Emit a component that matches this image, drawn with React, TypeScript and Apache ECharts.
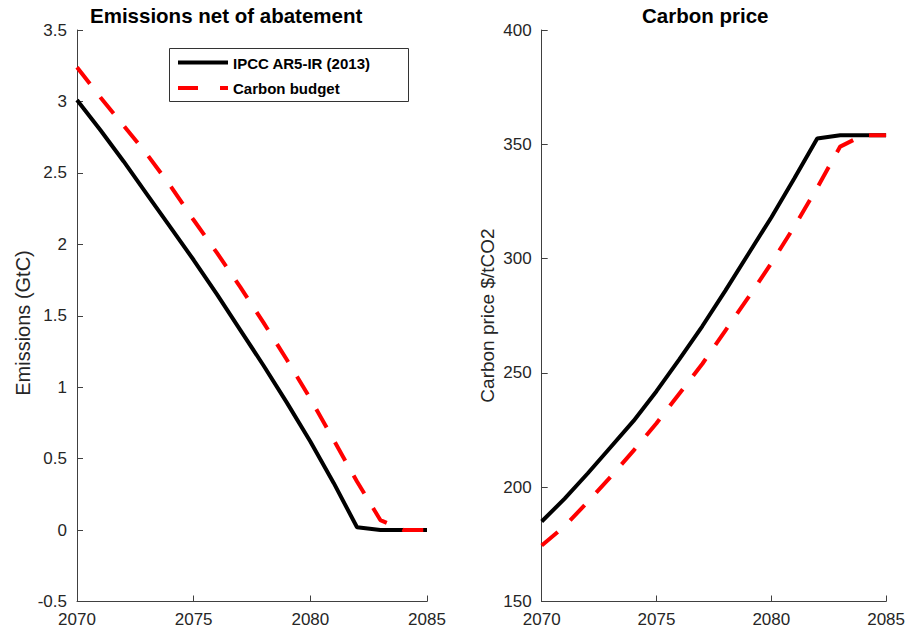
import React, { useEffect, useRef } from "react";
import * as echarts from "echarts";

const years = [2070, 2071, 2072, 2073, 2074, 2075, 2076, 2077, 2078, 2079, 2080, 2081, 2082, 2083, 2084, 2085];
const emissionsIPCC = [3.01, 2.8, 2.58, 2.35, 2.12, 1.89, 1.65, 1.4, 1.15, 0.89, 0.62, 0.33, 0.02, 0.0, 0.0, 0.0];
const emissionsBudget = [3.24, 3.03, 2.83, 2.63, 2.41, 2.17, 1.94, 1.7, 1.45, 1.19, 0.92, 0.63, 0.34, 0.07, 0.0, 0.0];
const priceIPCC = [185, 195, 206, 217.5, 229, 242, 256, 270.5, 286, 302, 318, 335, 352.5, 354, 354, 354];
const priceBudget = [174.5, 183, 193.5, 204.5, 216, 228, 241, 254, 268.5, 283, 298, 314, 331, 349, 354, 354];

const titles = ["Emissions net of abatement", "Carbon price"];
const yNames = ["Emissions (GtC)", "Carbon price $/tCO2"];
const seriesNames = ["IPCC AR5-IR (2013)", "Carbon budget"];

const pair = (xs: number[], ys: number[]) => xs.map((x, i) => [x, ys[i]]);

export default function App() {
  const ref = useRef<HTMLDivElement>(null);
  useEffect(() => {
    if (!ref.current) return;
    const chart = echarts.init(ref.current, null, { renderer: "svg" });
    const font = "Liberation Sans, Arial, sans-serif";
    const axisCol = "#404040";
    const txtCol = "#262626";
    const xAxisBase = {
      type: "value",
      min: 2070,
      max: 2085,
      interval: 5,
      axisLine: { show: true, onZero: false, lineStyle: { color: axisCol, width: 1 } },
      axisTick: { show: true, inside: true, length: 6, lineStyle: { color: axisCol } },
      axisLabel: {
        color: txtCol, fontSize: 17, fontFamily: font, margin: 9, showMinLabel: true, showMaxLabel: true,
        formatter: (v: number) => String(v),
      },
      splitLine: { show: false },
    };
    const yAxisBase = {
      type: "value",
      axisLine: { show: true, onZero: false, lineStyle: { color: axisCol, width: 1 } },
      axisTick: { show: true, inside: true, length: 6, lineStyle: { color: axisCol } },
      axisLabel: { color: txtCol, fontSize: 17, fontFamily: font, margin: 10, showMinLabel: true, showMaxLabel: true },
      splitLine: { show: false },
    };
    const blackStyle = { color: "#000000", width: 4, type: "solid" as const };
    const redStyle = { color: "#ff0000", width: 4, type: [21, 17] as number[] };
    const legendText = { fontSize: 15, fontWeight: "bold", fill: "#000", fontFamily: font, verticalAlign: "middle", align: "left" };
    const nameText = { fill: txtCol, fontFamily: font, align: "center", verticalAlign: "middle" };
    chart.setOption({
      animation: false,
      backgroundColor: "#ffffff",
      title: [
        { text: titles[0], left: 85, top: 0, textStyle: { fontSize: 20.5, fontWeight: "bold", color: "#000", fontFamily: font } },
        { text: titles[1], left: 637, top: 0, textStyle: { fontSize: 20.5, fontWeight: "bold", color: "#000", fontFamily: font } },
      ],
      graphic: [
        { type: "text", x: 22.5, y: 323, rotation: Math.PI / 2, style: { text: yNames[0], fontSize: 20, ...nameText } },
        { type: "text", x: 487, y: 315.5, rotation: Math.PI / 2, style: { text: yNames[1], fontSize: 19, ...nameText } },
        {
          type: "group",
          z: 100,
          children: [
            { type: "rect", shape: { x: 169.5, y: 48.5, width: 239, height: 53 }, style: { fill: "#fff", stroke: "#333", lineWidth: 1 } },
            { type: "line", shape: { x1: 178, y1: 62.5, x2: 228, y2: 62.5 }, style: { stroke: "#000", lineWidth: 4 } },
            { type: "text", x: 233, y: 63, style: { text: seriesNames[0], ...legendText } },
            { type: "line", shape: { x1: 178, y1: 88, x2: 228, y2: 88 }, style: { stroke: "#ff0000", lineWidth: 4, lineDash: [20, 22] } },
            { type: "text", x: 233, y: 88.5, style: { text: seriesNames[1], ...legendText } },
          ],
        },
      ],
      grid: [
        { left: 77, top: 30, width: 350, height: 571.5 },
        { left: 541.7, top: 30, width: 348.3, height: 571.5 },
      ],
      xAxis: [
        { ...xAxisBase, gridIndex: 0 },
        { ...xAxisBase, gridIndex: 1 },
      ],
      yAxis: [
        { ...yAxisBase, gridIndex: 0, min: -0.5, max: 3.5, interval: 0.5 },
        { ...yAxisBase, gridIndex: 1, min: 150, max: 400, interval: 50 },
      ],
      series: [
        { name: seriesNames[0], type: "line", xAxisIndex: 0, yAxisIndex: 0, data: pair(years, emissionsIPCC), showSymbol: false, symbol: "none", lineStyle: blackStyle, z: 2 },
        { name: seriesNames[1], type: "line", xAxisIndex: 0, yAxisIndex: 0, data: pair(years, emissionsBudget), showSymbol: false, symbol: "none", lineStyle: redStyle, z: 3 },
        { name: seriesNames[0], type: "line", xAxisIndex: 1, yAxisIndex: 1, data: pair(years, priceIPCC), showSymbol: false, symbol: "none", lineStyle: blackStyle, z: 2 },
        { name: seriesNames[1], type: "line", xAxisIndex: 1, yAxisIndex: 1, data: pair(years, priceBudget), showSymbol: false, symbol: "none", lineStyle: redStyle, z: 3 },
      ],
    });
    return () => chart.dispose();
  }, []);
  return (
    <div
      ref={ref}
      style={{ position: "fixed", left: 0, top: 0, width: 908, height: 634, background: "#fff" }}
    />
  );
}
